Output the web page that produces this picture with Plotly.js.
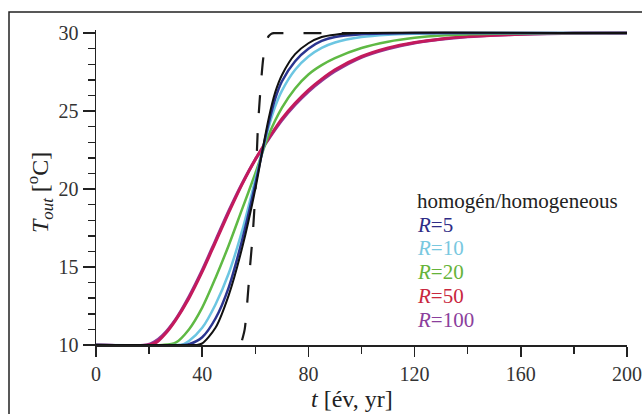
<!DOCTYPE html>
<html>
<head>
<meta charset="utf-8">
<script src="https://cdn.plot.ly/plotly-3.0.1.min.js"></script>
<style>
html,body{margin:0;padding:0;background:#fff;}
#chart{width:642px;height:414px;}
</style>
</head>
<body>
<div id="chart"></div>
<script>
// Time axis values (years) and outlet temperatures (°C) for each curve
const tHom  = [0, 35, 38, 40, 45, 50, 55, 60, 62.5, 65, 67.5, 70, 75, 80, 85, 90, 100, 200];
const THom  = [10, 10, 10, 10.1, 11.1, 13.2, 16.2, 20.0, 22.3, 24.5, 26.2, 27.3, 28.65, 29.35, 29.75, 29.9, 30, 30];

const tR5   = [0, 33, 35, 40, 45, 50, 55, 60, 62.5, 65, 67.5, 70, 75, 80, 85, 90, 100, 110, 120, 200];
const TR5   = [10, 10, 10.05, 10.5, 11.7, 13.7, 16.7, 20.3, 22.3, 24.2, 25.8, 26.9, 28.2, 29.0, 29.5, 29.75, 29.93, 29.98, 30, 30];

const tR10  = [0, 30, 33, 35, 40, 45, 50, 55, 60, 62.5, 65, 67.5, 70, 75, 80, 85, 90, 100, 110, 120, 130, 140, 200];
const TR10  = [10, 10, 10.05, 10.25, 11.1, 12.6, 14.6, 17.3, 20.6, 22.3, 23.95, 25.3, 26.3, 27.65, 28.5, 29.05, 29.4, 29.75, 29.9, 29.96, 29.99, 30, 30];

const tR20  = [0, 25, 30, 35, 40, 45, 50, 55, 60, 62.5, 65, 70, 75, 80, 85, 90, 100, 110, 120, 130, 140, 150, 170, 200];
const TR20  = [10, 10, 10.15, 11.0, 12.4, 14.3, 16.4, 18.7, 21.0, 22.25, 23.45, 25.2, 26.45, 27.35, 27.95, 28.4, 29.05, 29.45, 29.7, 29.85, 29.92, 29.96, 29.99, 30];

const tR50  = [0, 20, 23, 26, 30, 35, 40, 45, 50, 55, 60, 62.5, 65, 70, 75, 80, 85, 90, 100, 110, 120, 130, 140, 150, 160, 170, 180, 200];
const TR50  = [10, 10, 10.2, 10.7, 11.6, 13.0, 14.7, 16.6, 18.5, 20.3, 21.9, 22.6, 23.25, 24.5, 25.5, 26.35, 27.05, 27.65, 28.5, 29.05, 29.4, 29.63, 29.78, 29.87, 29.93, 29.97, 29.99, 30];

const tR100 = [0, 19, 22, 25, 30, 35, 40, 45, 50, 55, 60, 62.5, 65, 70, 75, 80, 85, 90, 100, 110, 120, 130, 140, 150, 160, 170, 180, 200];
const TR100 = [10, 10, 10.2, 10.6, 11.65, 13.1, 14.8, 16.7, 18.6, 20.35, 21.9, 22.55, 23.2, 24.4, 25.4, 26.25, 26.95, 27.55, 28.45, 29.0, 29.37, 29.6, 29.76, 29.86, 29.92, 29.96, 29.99, 30];

const tDash = [55, 56, 57, 58, 59, 60, 61, 62, 63, 64, 65, 66, 67, 70, 200];
const TDash = [10.3, 11, 12.8, 15, 17, 19.8, 24.0, 26.5, 28.4, 29.4, 29.8, 29.95, 30, 30, 30];

const legendLabels = ["homogén/homogeneous", "<i>R</i>=5", "<i>R</i>=10", "<i>R</i>=20", "<i>R</i>=50", "<i>R</i>=100"];
const legendColors = ["#222222", "#2f2c86", "#79c8df", "#66b33a", "#c9283e", "#8b3f9c"];
const legendY = [201, 225, 248, 272, 296, 320];

const xTitle = "<i>t</i> [év, yr]";
const yTitle = "<i>T</i><sub><i>out</i></sub> [<sup>o</sup>C]";

const serif = "Liberation Serif";

function line(x, y, color, width, dash) {
  return {x: x, y: y, type: "scatter", mode: "lines", hoverinfo: "skip", showlegend: false,
          line: {color: color, width: width, dash: dash || "solid", shape: "spline", smoothing: 0.8}};
}

const traces = [
  line(tDash, TDash, "#1a1a1a", 2.2, "18px,20px"),
  line(tR100, TR100, "#8e3a98", 3),
  line(tR50, TR50, "#c41a5c", 3),
  line(tR20, TR20, "#5fb944", 2.5),
  line(tR10, TR10, "#6cc6e2", 2.5),
  line(tR5, TR5, "#2a3590", 2.5),
  line(tHom, THom, "#111111", 2)
];

const W = 642, H = 414, mL = 96, mR = 15, mT = 30, mB = 69;
const pw = W - mL - mR, ph = H - mT - mB;
function px(x){ return (x - mL) / pw; }
function py(y){ return (H - mB - y) / ph; }

const annotations = [];
for (let i = 0; i < legendLabels.length; i++) {
  annotations.push({xref: "paper", yref: "paper", x: px(415), y: py(legendY[i]), xanchor: "left", yanchor: "middle",
    text: legendLabels[i], showarrow: false, font: {family: serif, size: 21, color: legendColors[i]}});
}
annotations.push({xref: "paper", yref: "paper", x: px(352), y: py(399), xanchor: "center", yanchor: "middle",
  text: xTitle, showarrow: false, font: {family: serif, size: 24, color: "#222"}});
annotations.push({xref: "paper", yref: "paper", x: px(40), y: py(193), xanchor: "center", yanchor: "middle",
  text: yTitle, textangle: -90, showarrow: false, font: {family: serif, size: 24, color: "#222"}});

const layout = {
  width: W, height: H,
  margin: {l: mL, r: mR, t: mT, b: mB, pad: 0},
  paper_bgcolor: "#ffffff", plot_bgcolor: "#ffffff",
  showlegend: false,
  font: {family: serif, size: 20, color: "#333"},
  xaxis: {range: [0, 200], tick0: 0, dtick: 40, showgrid: false, zeroline: false,
    showline: true, linecolor: "#222", linewidth: 1.5, ticks: "outside", ticklen: 10, tickwidth: 1.5, tickcolor: "#222",
    minor: {dtick: 20, ticks: "outside", ticklen: 7, tickwidth: 1.5, tickcolor: "#222", showgrid: false},
    layer: "below traces", tickfont: {family: serif, size: 20, color: "#333"}},
  yaxis: {range: [10, 30.2], tick0: 10, dtick: 5, showgrid: false, zeroline: false,
    showline: true, linecolor: "#222", linewidth: 1.5, ticks: "outside", ticklen: 12, tickwidth: 1.5, tickcolor: "#222",
    minor: {dtick: 1, ticks: "outside", ticklen: 7, tickwidth: 1.5, tickcolor: "#222", showgrid: false},
    layer: "below traces", tickfont: {family: serif, size: 20, color: "#333"}},
  shapes: [{type: "rect", xref: "paper", yref: "paper", x0: px(9), x1: px(660), y0: py(430), y1: py(12),
    line: {color: "#222", width: 1.5}, fillcolor: "rgba(0,0,0,0)", layer: "above"}],
  annotations: annotations
};

Plotly.newPlot("chart", traces, layout, {staticPlot: true, displayModeBar: false});
</script>
</body>
</html>
